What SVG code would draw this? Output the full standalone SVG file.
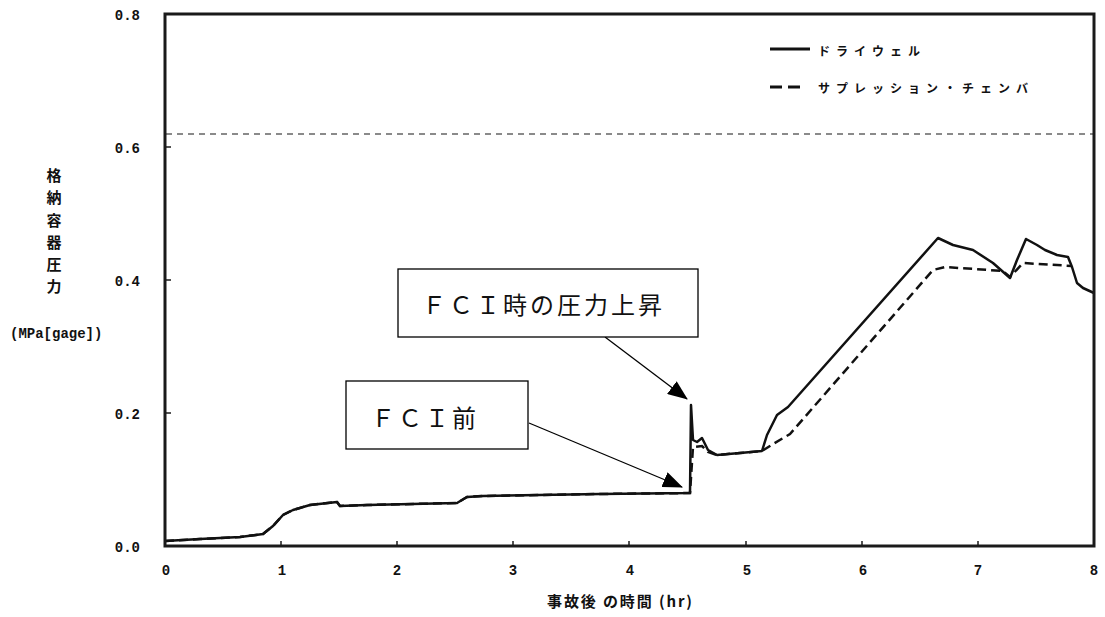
<svg xmlns="http://www.w3.org/2000/svg" width="1105" height="617" viewBox="0 0 1105 617">
<style>
.frame{fill:none;stroke:#1a1a1a;stroke-width:3}
.tick{stroke:#1a1a1a;stroke-width:1.5}
.num{font-family:"Liberation Mono",monospace;font-weight:bold;font-size:14px;fill:#111}
.ttl{font-family:"Noto Sans CJK JP",sans-serif;font-weight:bold;font-size:15px;fill:#111}
.leg{font-family:"Noto Sans CJK JP",sans-serif;font-weight:bold;font-size:12px;letter-spacing:6px;fill:#111}
.dw{fill:none;stroke:#111;stroke-width:2.5;stroke-linejoin:round}
.sc{fill:none;stroke:#111;stroke-width:2.5;stroke-dasharray:9 5}
.lim{fill:none;stroke:#8a8a8a;stroke-width:2;stroke-dasharray:6 5}
.box{fill:#fff;stroke:#000;stroke-width:1.3}
.note{font-family:"Noto Sans CJK JP",serif;font-weight:normal;font-size:24px;letter-spacing:3px;fill:#111}
.conn{stroke:#000;stroke-width:1.3;fill:none;marker-end:url(#ah)}
</style>
<defs>
<marker id="ah" markerUnits="userSpaceOnUse" markerWidth="20" markerHeight="16" refX="19" refY="8" orient="auto">
<path d="M0,0 L20,8 L0,16 Z" fill="#000"/>
</marker>
</defs>
<rect width="1105" height="617" fill="#fff"/>

<g id="plot">
<line class="lim" x1="166" y1="134" x2="1093" y2="134"/>
<path class="sc" d="M165,541 L200,539 L240,537 L263,534 L273,526 L283,515 L293,510 L310,505 L337,502 L340,506 L367,505 L457,503 L467,497 L483,496 L600,494 L690,493 L693,447 L702,446 L708,452 L717,455 L740,453 L762,451 L773,444 L790,434 L933,270 L945,267 L1003,271 L1010,277 L1023,263 L1072,266"/>
<path class="dw" d="M165,541 L200,539 L240,537 L263,534 L273,526 L283,515 L293,510 L310,505 L337,502 L340,506 L367,505 L457,503 L467,497 L483,496 L600,494 L690,493 L691,405 L693,440 L697,442 L702,438 L708,450 L717,455 L740,453 L762,451 L767,435 L777,415 L788,407 L938,238 L953,245 L973,250 L993,263 L1010,278 L1017,260 L1026,239 L1037,245 L1045,250 L1057,255 L1068,257 L1072,267 L1077,283 L1083,288 L1094,293"/>
<rect class="frame" x="165" y="14" width="929" height="532"/>
<g class="tick">
<line x1="165" y1="413" x2="171" y2="413"/>
<line x1="165" y1="280" x2="171" y2="280"/>
<line x1="165" y1="147" x2="171" y2="147"/>
<line x1="281" y1="546" x2="281" y2="541"/>
<line x1="397" y1="546" x2="397" y2="541"/>
<line x1="513" y1="546" x2="513" y2="541"/>
<line x1="629" y1="546" x2="629" y2="541"/>
<line x1="746" y1="546" x2="746" y2="541"/>
<line x1="862" y1="546" x2="862" y2="541"/>
<line x1="978" y1="546" x2="978" y2="541"/>
</g>
</g>

<g id="axis-labels">
<g class="num" text-anchor="end">
<text x="140" y="20">0.8</text>
<text x="140" y="153">0.6</text>
<text x="140" y="286">0.4</text>
<text x="140" y="419">0.2</text>
<text x="140" y="552">0.0</text>
</g>
<g class="num" text-anchor="middle">
<text x="166" y="575">0</text>
<text x="282" y="575">1</text>
<text x="397" y="575">2</text>
<text x="513" y="575">3</text>
<text x="630" y="575">4</text>
<text x="747" y="575">5</text>
<text x="863" y="575">6</text>
<text x="978" y="575">7</text>
<text x="1094" y="575">8</text>
</g>
<g class="ttl" text-anchor="middle">
<text x="54" y="181">格</text>
<text x="54" y="203">納</text>
<text x="54" y="226">容</text>
<text x="54" y="248">器</text>
<text x="54" y="270">圧</text>
<text x="54" y="292">力</text>
</g>
<text class="num" x="10" y="338">(MPa[gage])</text>
<text class="ttl" x="547" y="607" textLength="145" lengthAdjust="spacing">事故後 の時間 (hr)</text>
</g>

<g id="legend">
<line x1="770" y1="49" x2="810" y2="49" stroke="#111" stroke-width="3"/>
<text class="leg" x="818" y="56">ドライウェル</text>
<line x1="770" y1="87" x2="800" y2="87" stroke="#111" stroke-width="3" stroke-dasharray="12 6"/>
<text class="leg" x="818" y="93">サプレッション・チェンバ</text>
</g>

<g id="connectors">
<line class="conn" x1="605" y1="337" x2="687" y2="399"/>
<line class="conn" x1="529" y1="423" x2="682" y2="487"/>
</g>

<g id="node-fci-rise">
<rect class="box" x="398" y="269" width="300" height="68"/>
<text class="note" x="422" y="314">ＦＣＩ時の圧力上昇</text>
</g>
<g id="node-fci-before">
<rect class="box" x="346" y="381" width="182" height="68"/>
<text class="note" x="371" y="427">ＦＣＩ前</text>
</g>
</svg>
